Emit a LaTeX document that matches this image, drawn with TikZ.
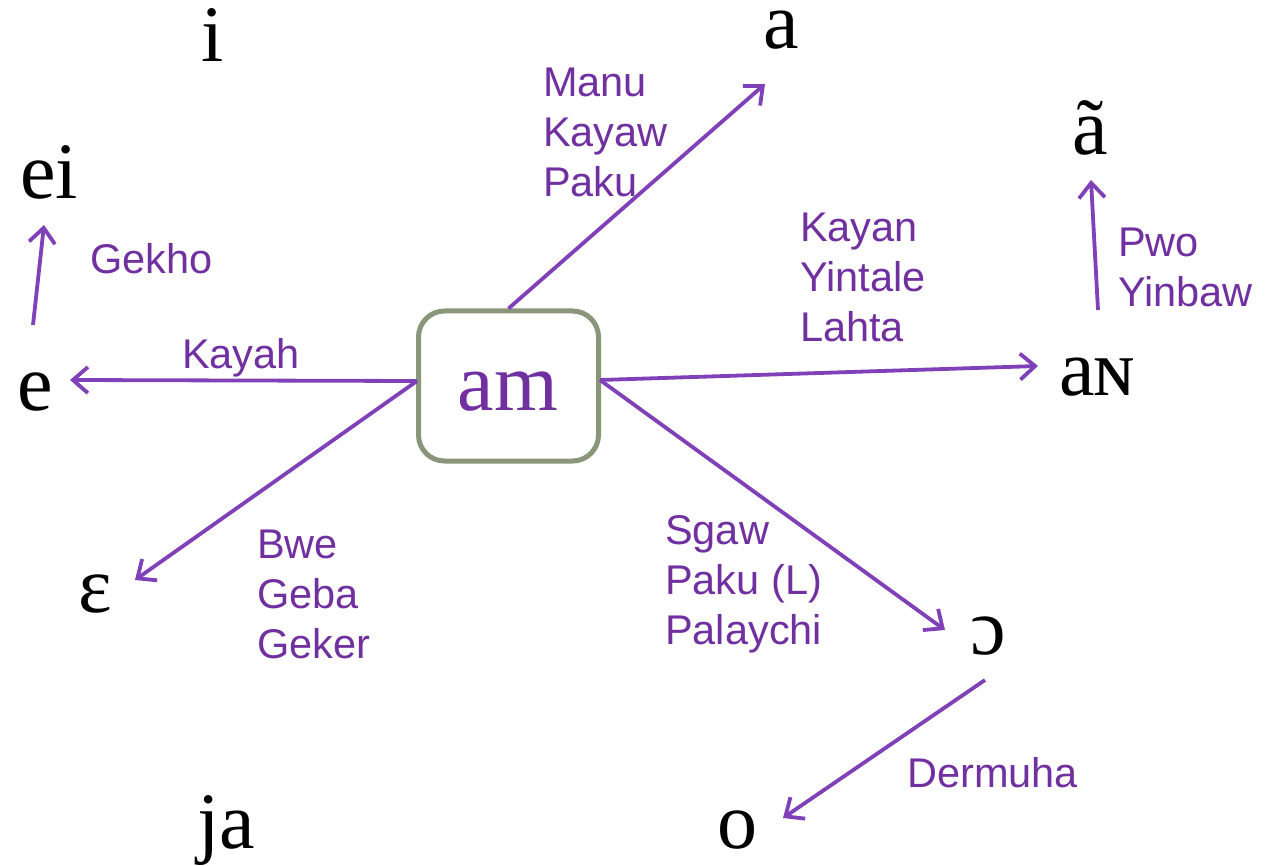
\documentclass[tikz,border=0pt]{standalone}
\usepackage{fontspec}
\setmainfont{Liberation Serif}
\setsansfont{Liberation Sans}
\usetikzlibrary{arrows.meta}
\definecolor{lblpurple}{RGB}{112,48,160}
\definecolor{arrpurple}{RGB}{128,64,184}
\definecolor{boxgray}{RGB}{138,150,122}
\begin{document}
\begin{tikzpicture}[x=1pt,y=-1pt,
  ipa/.style={anchor=base,inner sep=0pt,font=\fontsize{80}{82}\selectfont},
  lbl/.style={anchor=north west,inner sep=0pt,align=left,text=lblpurple,
    font=\sffamily\fontsize{41.5}{50}\selectfont},
  conn/.style={draw=arrpurple,line width=3.8pt,
    -{Straight Barb[length=15pt,width=26pt,line width=3.8pt]}},
  centerbox/.style={draw=boxgray,line width=5pt,rounded corners=26pt,
    minimum width=180pt,minimum height=150pt,text=lblpurple,
    font=\fontsize{80}{82}\selectfont}]
\useasboundingbox (0,0) rectangle (1276,866);
\fill[white] (0,0) rectangle (1276,866);
% center box
\node[centerbox] (box) at (508.5,386) {};
\node[ipa,text=lblpurple,font=\fontsize{82}{84}\selectfont] (am) at (508,410) {am};
% IPA nodes
\node[ipa,text height=40pt] (i) at (213,62) {i};
\node[ipa,text height=38pt] (a) at (781,49) {a};
\node[ipa] (atil) at (1090,155) {ã};
\node[ipa] (ei) at (49,199) {ei};
\node[ipa] (e) at (35,410) {e};
\node[ipa] (aN) at (1097,395) {aɴ};
\node[ipa] (eps) at (95,612) {ɛ};
\node[ipa] (oo) at (988,654) {ɔ};
\node[ipa] (ja) at (226,848) {ja};
\node[ipa] (o) at (737,848) {o};
% arrow end points
\coordinate (tA) at (765,84);
\coordinate (sN) at (600,380);
\coordinate (tN) at (1038,366);
\coordinate (sW) at (417,381);
\coordinate (tE) at (70,380);
\coordinate (tEps) at (135,580);
\coordinate (tOO) at (945,630);
\coordinate (sO) at (985,680);
\coordinate (tO) at (783,818);
\coordinate (sEi) at (33,325);
\coordinate (tEi) at (44,225);
\coordinate (sAt) at (1098,310);
\coordinate (tAt) at (1091,180);
% connectors
\draw[conn] (box.north) -- (tA);
\draw[conn] (sN) -- (tN);
\draw[conn] (sW) -- (tE);
\draw[conn] (sW) -- (tEps);
\draw[conn] (sN) -- (tOO);
\draw[conn] (sO) -- (tO);
\draw[conn] (sEi) -- (tEi);
\draw[conn] (sAt) -- (tAt);
% labels
\node[lbl] (l1) at (543,68) {Manu\\Kayaw\\Paku};
\node[lbl] (l2) at (800,213) {Kayan\\Yintale\\Lahta};
\node[lbl] (l3) at (1118,228) {Pwo\\Yinbaw};
\node[lbl] (l4) at (90,243) {Gekho};
\node[lbl] (l5) at (182,338) {Kayah};
\node[lbl] (l6) at (257,530) {Bwe\\Geba\\Geker};
\node[lbl] (l7) at (665,515) {Sgaw\\Paku (L)\\Palaychi};
\node[lbl] (l8) at (907,757) {Dermuha};
\end{tikzpicture}
\end{document}
